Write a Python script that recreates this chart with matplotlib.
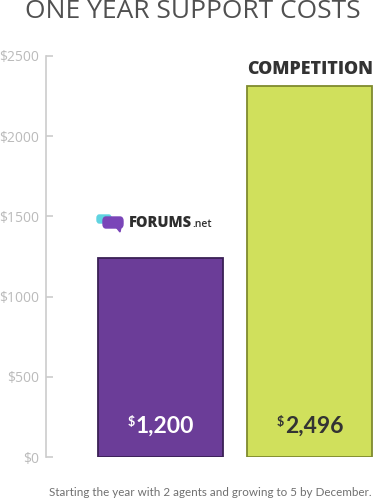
import matplotlib
matplotlib.use("Agg")
import matplotlib.pyplot as plt
from matplotlib.patches import FancyBboxPatch, Polygon
from matplotlib.ticker import FuncFormatter

# bar heights as drawn in the picture, and the printed labels
products = ["FORUMS.net", "COMPETITION"]
heights = [1240, 2315]
value_labels = ["1,200", "2,496"]
y_ticks = [0, 500, 1000, 1500, 2000, 2500]
footnote = "Starting the year with 2 agents and growing to 5 by December."

W, H = 374, 500
fig = plt.figure(figsize=(W / 100, H / 100), dpi=100)

def fx(px):
    return px / W

def fy(py):
    return 1 - py / H

ax = fig.add_axes([fx(46), fy(457), fx(374) - fx(46), fy(56) - fy(457)])

bar_colors = ["#6b3d98", "#d0e05c"]
edge_colors = ["#3a2055", "#7f8a2e"]
bars = ax.bar([0, 1], heights, width=0.836, color=bar_colors,
              edgecolor=edge_colors, linewidth=1.3, zorder=2)

ax.set_xlim(-0.763, 1.43)
ax.set_ylim(0, 2500)
ax.set_yticks(y_ticks)
ax.yaxis.set_major_formatter(FuncFormatter(lambda v, p: "\\$%d" % v))
ax.set_xticks([])
for s in ["top", "right", "bottom"]:
    ax.spines[s].set_visible(False)
ax.spines["left"].set_color("#cccccc")
ax.spines["left"].set_linewidth(1.2)
ax.tick_params(axis="y", direction="in", length=5, width=1.2, color="#cccccc",
               labelcolor="#bbbbbb", labelsize=10, pad=5)
for lab in ax.get_yticklabels():
    lab.set_fontfamily("Open Sans")

fig.text(fx(193), fy(12), "ONE YEAR SUPPORT COSTS", ha="center", va="center",
         fontsize=19, color="#505050", family="Open Sans")

fig.text(fx(372), fy(493), footnote, ha="right", va="center",
         fontsize=8.4, color="#707070", family="Lato")

# value labels with small raised dollar sign
fig.canvas.draw()
renderer = fig.canvas.get_renderer()
text_colors = ["white", "#333333"]
for i, (b, lab) in enumerate(zip(bars, value_labels)):
    cx = b.get_x() + b.get_width() / 2
    t = ax.text(cx + 0.03, 190, lab, ha="center", va="center", fontsize=16.5,
                color=text_colors[i], family="Lato", fontweight="bold")
    bb = t.get_window_extent(renderer)
    fig.text(bb.x0 / fig.bbox.width - 0.002, bb.y1 / fig.bbox.height, "$",
             ha="right", va="top", fontsize=9, color=text_colors[i],
             family="Lato", fontweight="bold")

# competition label
fig.text(fx(310), fy(69), "COMPETITION", ha="center", va="center",
         fontsize=12.8, fontweight="heavy", color="#333333", family="Open Sans")

# forums.net logo
cyan = FancyBboxPatch((fx(97), fy(223)), fx(14), fy(215) - fy(223),
                      boxstyle="round,pad=0,rounding_size=0.006",
                      transform=fig.transFigure, color="#5fd3e0", zorder=5)
purple = FancyBboxPatch((fx(103), fy(228)), fx(20), fy(217) - fy(228),
                        boxstyle="round,pad=0,rounding_size=0.008",
                        transform=fig.transFigure, color="#7a45b8", zorder=6)
tail = Polygon([[fx(116), fy(227)], [fx(121), fy(227)], [fx(120), fy(232)]],
               closed=True, transform=fig.transFigure, color="#7a45b8", zorder=6)
fig.patches.extend([cyan, purple, tail])
t1 = fig.text(fx(129), fy(223), "FORUMS", ha="left", va="center", fontsize=10.5,
              fontweight="heavy", color="#2e2e2e", family="Open Sans")
bb = t1.get_window_extent(renderer)
fig.text(bb.x1 / fig.bbox.width, fy(224.5), ".net", ha="left", va="center",
         fontsize=7.5, color="#2e2e2e", family="Open Sans", fontweight="semibold")

fig.savefig("out.png", dpi=100)
